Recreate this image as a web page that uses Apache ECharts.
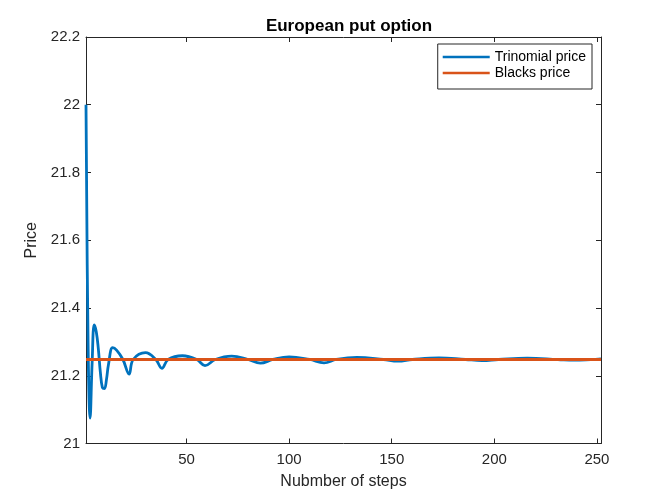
<!DOCTYPE html>
<html>
<head>
<meta charset="utf-8">
<script src="https://cdn.jsdelivr.net/npm/echarts@6/dist/echarts.min.js"></script>
<style>
  html, body { margin: 0; padding: 0; background: #fff; }
  #chart { width: 664px; height: 499px; }
</style>
</head>
<body>
<div id="chart"></div>
<script>
// values
var trinomialSteps = [1, 2, 3, 4, 5, 6, 7, 8, 9, 10, 11, 12, 14, 16, 19, 22, 24, 30, 35, 38, 41, 48, 55, 59, 64,
  72, 80, 86, 92, 100, 110, 117, 123, 133, 146, 153, 160, 173, 186, 194, 202, 216, 231, 239, 247, 252];
var trinomialPrices = [22.00, 21.30, 21.075, 21.24, 21.35, 21.33, 21.28, 21.21, 21.165, 21.162, 21.19, 21.235,
  21.283, 21.275, 21.248, 21.205, 21.248, 21.268, 21.248, 21.222, 21.248, 21.259, 21.248, 21.230, 21.248,
  21.258, 21.248, 21.237, 21.248, 21.256, 21.248, 21.238, 21.248, 21.254, 21.248, 21.243, 21.248, 21.253,
  21.248, 21.245, 21.248, 21.252, 21.248, 21.246, 21.248, 21.250];
var blackSteps = [1, 252];
var blackPrices = [21.248, 21.248];
var xTicks = [50, 100, 150, 200, 250];

var axisColor = '#262626';

function pairs(xs, ys) {
  return xs.map(function (x, i) { return [x, ys[i]]; });
}

var chart = echarts.init(document.getElementById('chart'));

var xBase = {
  type: 'value',
  min: 1,
  max: 252,
  splitLine: { show: false },
  axisLine: { show: true, lineStyle: { color: axisColor, width: 1 } },
  axisTick: { show: true, inside: true, length: 5, customValues: xTicks, lineStyle: { color: axisColor } }
};
var yBase = {
  type: 'value',
  min: 21,
  max: 22.2,
  interval: 0.2,
  splitLine: { show: false },
  axisLine: { show: true, lineStyle: { color: axisColor, width: 1 } },
  axisTick: { show: true, inside: true, length: 5, lineStyle: { color: axisColor } }
};

chart.setOption({
  backgroundColor: '#fff',
  animation: false,
  title: {
    text: 'European put option',
    left: 344,
    textAlign: 'center',
    top: 13,
    textStyle: { fontFamily: 'Liberation Sans', fontSize: 17, fontWeight: 'bold', color: '#000' }
  },
  grid: { left: 86, right: 63, top: 37, bottom: 55.5 },
  legend: {
    orient: 'vertical',
    right: 72,
    top: 44,
    padding: [6, 6, 9, 5],
    itemGap: 2,
    itemWidth: 47,
    itemHeight: 2.5,
    icon: 'rect',
    backgroundColor: '#fff',
    borderColor: axisColor,
    borderWidth: 1,
    borderRadius: 0,
    textStyle: { fontFamily: 'Liberation Sans', fontSize: 14, lineHeight: 14, color: '#000' },
    data: ['Trinomial price', 'Blacks price']
  },
  xAxis: [
    Object.assign({}, xBase, {
      position: 'bottom',
      name: 'Nubmber of steps',
      nameLocation: 'middle',
      nameGap: 30,
      nameTextStyle: { fontFamily: 'Liberation Sans', fontSize: 16, color: axisColor },
      axisLabel: { customValues: xTicks, margin: 9, fontFamily: 'Liberation Sans', fontSize: 15, color: axisColor }
    }),
    Object.assign({}, xBase, { position: 'top', axisLabel: { show: false } })
  ],
  yAxis: [
    Object.assign({}, yBase, {
      position: 'left',
      name: 'Price',
      nameLocation: 'middle',
      nameGap: 44,
      nameTextStyle: { fontFamily: 'Liberation Sans', fontSize: 16, color: axisColor },
      axisLabel: {
        margin: 6, fontFamily: 'Liberation Sans', fontSize: 15, color: axisColor,
        formatter: function (v) { return String(+v.toFixed(1)); }
      }
    }),
    Object.assign({}, yBase, { position: 'right', axisLabel: { show: false } })
  ],
  series: [
    {
      name: 'Trinomial price',
      type: 'line',
      data: pairs(trinomialSteps, trinomialPrices),
      smooth: 0.4,
      symbol: 'none',
      color: '#0072BD',
      lineStyle: { width: 2.8, color: '#0072BD' }
    },
    {
      name: 'Blacks price',
      type: 'line',
      data: pairs(blackSteps, blackPrices),
      symbol: 'none',
      color: '#D95319',
      lineStyle: { width: 2.8, color: '#D95319' }
    }
  ]
});
</script>
</body>
</html>
